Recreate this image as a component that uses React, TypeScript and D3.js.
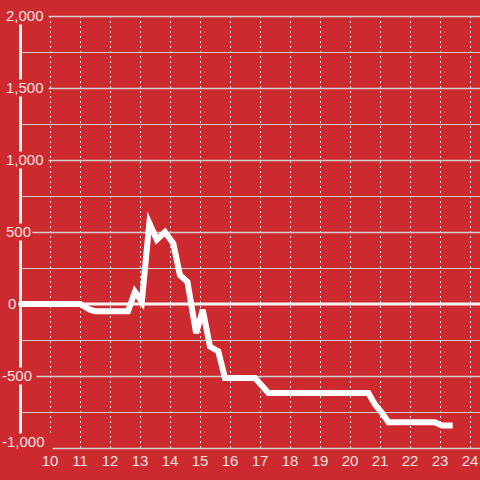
import React from "react";
import * as d3 from "d3";

const xValues = [9, 11, 11.33, 11.5, 12.6, 12.83, 13.06, 13.31, 13.56, 13.83, 14.11, 14.33, 14.58, 14.87, 15.09, 15.33, 15.61, 15.83, 16.83, 17.28, 20.61, 20.83, 21.06, 21.28, 22.83, 23.06, 23.42];
const yValues = [0, 0, -40, -50, -50, 85, 16, 562, 447, 500, 420, 200, 154, -203, -41, -295, -330, -514, -514, -618, -618, -698, -756, -821, -821, -844, -844];
const xTicks = [10, 11, 12, 13, 14, 15, 16, 17, 18, 19, 20, 21, 22, 23, 24];
const yMajorTicks = [2000, 1500, 1000, 500, 0, -500, -1000];
const yMinorTicks = [1750, 1250, 750, 250, -250, -750];

const W = 480;
const H = 480;
const BG = "#cc2a2f";
const FONT = "'Liberation Sans', Arial, sans-serif";

export default function App() {
  const x = d3.scaleLinear().domain([9, 24.33]).range([20, 480]);
  const y = d3.scaleLinear().domain([-1000, 2000]).range([448, 16]);
  const data = xValues.map((v, i) => [v, yValues[i]] as [number, number]);
  const line = d3.line<[number, number]>().x((d) => x(d[0])).y((d) => y(d[1]));
  const fmt = d3.format(",");
  const labelColor = "#f7e0e0";

  const labelX = (v: number) => (v === 0 ? 8 : v < 0 ? 2 : 6);

  return (
    <svg
      width={W}
      height={H}
      style={{ position: "fixed", left: 0, top: 0, display: "block" }}
    >
      <rect x={0} y={0} width={W} height={H} fill={BG} />
      {xTicks.map((t) => (
        <line
          key={"vx" + t}
          x1={Math.round(x(t)) + 0.5}
          x2={Math.round(x(t)) + 0.5}
          y1={16}
          y2={448}
          stroke="#e6e6e6"
          strokeWidth={1}
          strokeDasharray="2,3"
        />
      ))}
      {yMinorTicks.map((t) => (
        <line
          key={"mn" + t}
          x1={20}
          x2={W}
          y1={Math.round(y(t)) + 0.5}
          y2={Math.round(y(t)) + 0.5}
          stroke="#cfcfcf"
          strokeWidth={1}
        />
      ))}
      {yMajorTicks
        .filter((t) => t !== 0)
        .map((t) => (
          <line
            key={"mj" + t}
            x1={20}
            x2={W}
            y1={Math.round(y(t)) + 0.5}
            y2={Math.round(y(t)) + 0.5}
            stroke="#cfcfcf"
            strokeWidth={1.5}
          />
        ))}
      <line x1={20.5} x2={20.5} y1={16} y2={448} stroke="#f4f4f4" strokeWidth={3} />
      <line x1={16} x2={W} y1={y(0)} y2={y(0)} stroke="#f4f4f4" strokeWidth={3} />
      {yMajorTicks.map((t) => {
        const label = fmt(t).replace("−", "-");
        const cy = t === -1000 ? y(t) - 6 : y(t);
        const w = label.length * 8.1 + 2;
        const lx = labelX(t);
        return (
          <g key={"yl" + t}>
            <rect x={lx - 2} y={cy - 8.5} width={w + 2} height={17} fill={BG} />
            <text
              x={lx}
              y={cy + 5.3}
              fill={labelColor}
              fontSize={15}
              fontFamily={FONT}
            >
              {label}
            </text>
          </g>
        );
      })}
      {xTicks.map((t) => (
        <text
          key={"xl" + t}
          x={x(t)}
          y={466}
          textAnchor="middle"
          fill={labelColor}
          fontSize={15}
          fontFamily={FONT}
        >
          {t}
        </text>
      ))}
      <path d={line(data) || ""} fill="none" stroke="#ffffff" strokeWidth={6} />
    </svg>
  );
}
